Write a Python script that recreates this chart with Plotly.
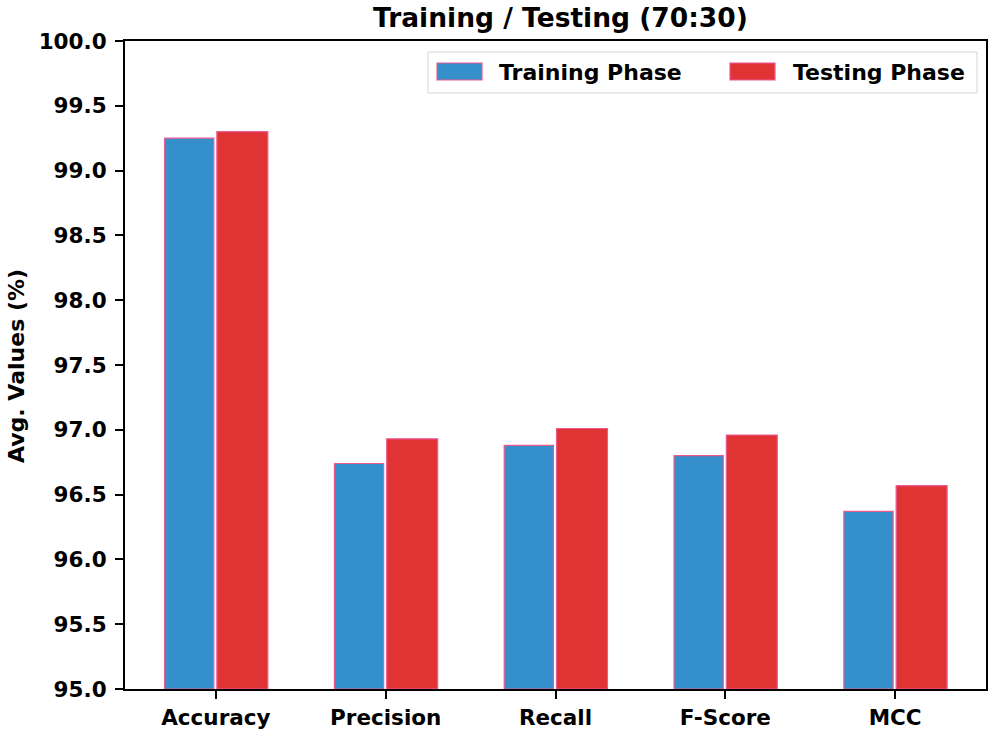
import plotly.graph_objects as go

categories = ["Accuracy", "Precision", "Recall", "F-Score", "MCC"]
training = [99.25, 96.74, 96.88, 96.80, 96.37]
testing = [99.30, 96.93, 97.01, 96.96, 96.57]
y_ticks = [95.0, 95.5, 96.0, 96.5, 97.0, 97.5, 98.0, 98.5, 99.0, 99.5, 100.0]
series_names = ["Training Phase", "Testing Phase"]
series_colors = ["#348fca", "#e03334"]

FONT = "DejaVu Sans"
EDGE = "#ec5a92"

W, H = 995, 733
# plot area in pixels
L, R, T, B = 125, 986, 41, 689
def px(x):
    return (x - L) / (R - L)
def py(y):
    return (B - y) / (B - T)

fig = go.Figure()
fig.add_trace(go.Bar(
    x=list(range(len(categories))), y=[v - 95 for v in training], base=95,
    name=series_names[0], width=0.29, offset=-0.302, showlegend=False,
    marker=dict(color=series_colors[0], line=dict(color=EDGE, width=1.2)),
))
fig.add_trace(go.Bar(
    x=list(range(len(categories))), y=[v - 95 for v in testing], base=95,
    name=series_names[1], width=0.3, offset=0.006, showlegend=False,
    marker=dict(color=series_colors[1], line=dict(color=EDGE, width=1.2)),
))

shapes = [
    dict(type="rect", xref="paper", yref="paper",
         x0=px(428), x1=px(977), y0=py(93), y1=py(52),
         line=dict(color="#d4d4d4", width=1), fillcolor="white", layer="above"),
]
annotations = []
swatch_x = [437, 730]
text_x = [497, 791]
for i in range(2):
    shapes.append(dict(type="rect", xref="paper", yref="paper",
                       x0=px(swatch_x[i]), x1=px(swatch_x[i] + 45), y0=py(80), y1=py(63),
                       line=dict(color=EDGE, width=1.2), fillcolor=series_colors[i], layer="above"))
    annotations.append(dict(xref="paper", yref="paper", x=px(text_x[i]), y=py(72),
                            xanchor="left", yanchor="middle", showarrow=False,
                            text=f"<b>{series_names[i]}</b>",
                            font=dict(size=22, family=FONT, color="black")))
annotations.append(dict(xref="paper", yref="paper", x=px(16), y=py(366),
                        xanchor="center", yanchor="middle", showarrow=False, textangle=-90,
                        text="<b>Avg. Values (%)</b>",
                        font=dict(size=22, family=FONT, color="black")))
annotations.append(dict(xref="paper", yref="paper", x=px(560), y=py(18),
                        xanchor="center", yanchor="middle", showarrow=False,
                        text="<b>Training / Testing (70:30)</b>",
                        font=dict(size=26.5, family=FONT, color="black")))

fig.update_layout(
    width=W, height=H,
    margin=dict(l=L, r=W - R, t=T, b=H - B, autoexpand=False),
    paper_bgcolor="white", plot_bgcolor="white",
    font=dict(family=FONT, color="black"),
    barmode="overlay",
    shapes=shapes,
    annotations=annotations,
    xaxis=dict(
        range=[-0.535, 4.535], tickmode="array",
        tickvals=list(range(len(categories))),
        ticktext=[f"<b>{c}</b>" for c in categories],
        ticks="outside", ticklen=8, tickcolor="black", tickwidth=1.5,
        showline=True, linecolor="black", linewidth=1.5, mirror=True,
        showgrid=False, zeroline=False, tickfont=dict(size=21.5, family=FONT),
        automargin=False,
    ),
    yaxis=dict(
        range=[95, 100], tickmode="array", tickvals=y_ticks,
        ticktext=[f"<b>{t:.1f}</b>\u2009" for t in y_ticks],
        ticks="outside", ticklen=8, tickcolor="black", tickwidth=1.5,
        showline=True, linecolor="black", linewidth=1.5, mirror=True,
        showgrid=False, zeroline=False, tickfont=dict(size=21.5, family=FONT),
        automargin=False,
    ),
)

fig.write_html("out.html",
               config={"displayModeBar": False},
               post_script="document.body.style.margin='0px';document.body.style.overflow='hidden';")
